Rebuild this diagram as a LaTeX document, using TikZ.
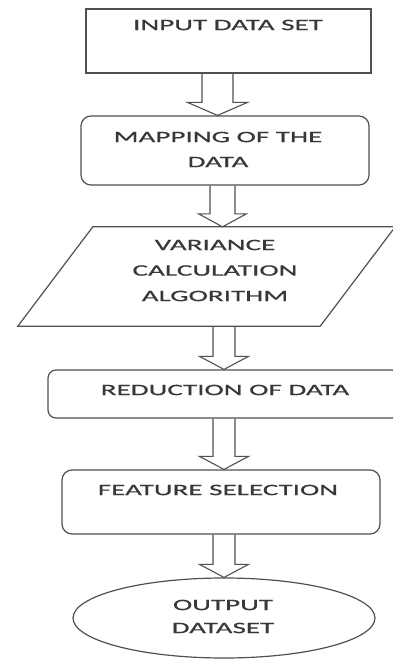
\documentclass[tikz,border=0pt]{standalone}
\usepackage{fontspec}
\newfontfamily\boxfont[FakeStretch=1.82,FakeBold=0.6]{Carlito}
\usetikzlibrary{calc,shapes.geometric}
\definecolor{linegray}{HTML}{505050}
\definecolor{textgray}{HTML}{383838}
\tikzset{
  outline/.style={draw=linegray, line width=1.2pt},
  plainbox/.style={outline, rectangle, inner sep=0pt},
  roundbox/.style={outline, rectangle, rounded corners=10pt, inner sep=0pt},
  ovalbox/.style={outline, ellipse, inner sep=0pt},
  frame/.style={rectangle, inner sep=0pt},
  caption/.style={text=textgray, font=\boxfont\fontsize{16}{25}\selectfont, inner sep=0pt, align=center},
  arrowline/.style={draw=linegray, line width=1.1pt, line join=miter},
}
% hollow block arrow: centre x, shaft half width, head half width, from anchor, to anchor
\newcommand\hollowarrow[5]{%
  \draw[arrowline] let \p1=(#4), \p2=(#5) in
    ({#1pt-#2pt},\y1) -- ({#1pt-#2pt},{\y2+13pt}) -- ({#1pt-#3pt},{\y2+13pt})
    -- (#1pt,\y2) -- ({#1pt+#3pt},{\y2+13pt}) -- ({#1pt+#2pt},{\y2+13pt})
    -- ({#1pt+#2pt},\y1);}
\begin{document}
\begin{tikzpicture}[x=1pt,y=-1pt]
  \useasboundingbox (0,0) rectangle (393,659);
  \clip (0,0) rectangle (393,659);

  % boxes
  \node[plainbox, minimum width=285pt, minimum height=64pt] (input) at (228.5,41) {};
  \node[roundbox, minimum width=288pt, minimum height=69pt] (mapping) at (225,150.5) {};
  \node[frame, minimum width=302pt, minimum height=99pt] (variance) at (206.5,276.5) {};
  \draw[outline] ($(variance.north west)+(37.5pt,0pt)$) -- ($(variance.north east)+(37.5pt,0pt)$)
    -- ($(variance.south east)+(-37.5pt,0pt)$) -- ($(variance.south west)+(-37.5pt,0pt)$) -- cycle;
  \node[roundbox, rounded corners=8pt, minimum width=352pt, minimum height=48pt] (reduction) at (224,394) {};
  \node[roundbox, minimum width=318pt, minimum height=64pt] (feature) at (221,502) {};
  \node[ovalbox, minimum width=302pt, minimum height=80pt] (output) at (224,618) {};

  % labels
  \node[caption] (t-input) at (228,25) {INPUT DATA SET};
  \node[caption] (t-mapping) at (218,149.5) {MAPPING OF THE\\DATA};
  \node[caption, font=\boxfont\fontsize{16}{25.5}\selectfont] (t-variance) at (215,270.5) {VARIANCE\\CALCULATION\\ALGORITHM};
  \node[caption] (t-reduction) at (225,390) {REDUCTION OF DATA};
  \node[caption] (t-feature) at (218,490) {FEATURE SELECTION};
  \node[caption, font=\boxfont\fontsize{16}{23}\selectfont] (t-output) at (223,616.5) {OUTPUT\\DATASET};

  % hollow arrows between the steps
  \hollowarrow{217.5}{15.5}{30}{input.south}{mapping.north}
  \hollowarrow{222.5}{12.5}{24}{mapping.south}{variance.north}
  \hollowarrow{224}{11}{24.5}{variance.south}{reduction.north}
  \hollowarrow{224}{11}{24.5}{reduction.south}{feature.north}
  \hollowarrow{224}{11}{24.5}{feature.south}{output.north}
\end{tikzpicture}
\end{document}
